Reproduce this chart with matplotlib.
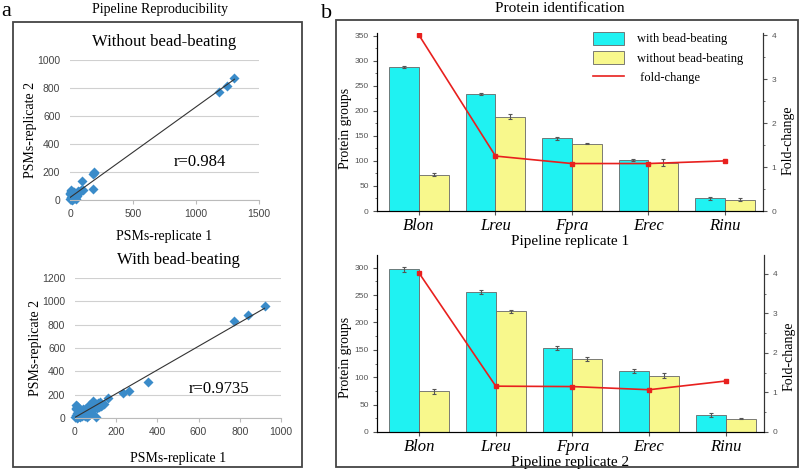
#!/usr/bin/env python3
"""Pipeline reproducibility scatter plots and protein identification bar charts."""

import numpy as np
import matplotlib
matplotlib.use("Agg")
import matplotlib.pyplot as plt
from matplotlib.patches import Rectangle, Patch
from matplotlib.lines import Line2D
from matplotlib.ticker import MultipleLocator

W, H = 800, 472

# --- panel a: PSMs replicate 1 vs replicate 2 ---
wo_rep1 = [1305, 1245, 1180, 190, 185, 192, 180, 95, 100, 85, 75, 70, 62, 58, 52, 48, 44,
           40, 36, 32, 28, 25, 22, 18, 15, 12, 10, 8, 6, 5, 4, 3, 2, 1, 14, 24, 34, 46,
           55, 66, 20, 30, 8, 12, 40]
wo_rep2 = [873, 812, 770, 200, 185, 190, 80, 135, 75, 70, 60, 55, 62, 48, 50, 40, 45,
           35, 38, 28, 30, 22, 25, 18, 20, 12, 15, 8, 10, 65, 70, 50, 40, 5, 2, 10, 20, 8,
           30, 45, 55, 60, 25, 35, 15]
wo_r = "r=0.984"

w_rep1 = [920, 840, 770, 355, 260, 235, 160, 100, 130, 120, 110, 100, 95, 90, 85, 80, 75,
          70, 65, 60, 55, 50, 45, 40, 35, 30, 25, 20, 15, 10, 8, 5, 3, 2, 12, 22, 32, 42,
          52, 62, 72, 82, 92, 105, 115, 125, 140, 18, 28, 38, 48, 58, 68, 78, 6, 4]
w_rep2 = [960, 880, 830, 308, 235, 215, 175, 5, 110, 140, 130, 120, 100, 90, 150, 80, 70,
          110, 60, 90, 50, 80, 40, 70, 30, 60, 20, 50, 10, 40, 100, 90, 30, 5, 2, 8, 15,
          25, 35, 45, 55, 65, 75, 85, 95, 105, 120, 60, 70, 80, 20, 10, 30, 40, 110, 80]
w_r = "r=0.9735"

# --- panel b: protein groups per species ---
species = ["Blon", "Lreu", "Fpra", "Erec", "Rinu"]

rep1_with = [287, 233, 145, 102, 25]
rep1_with_err = [2, 2, 3, 2, 3]
rep1_without = [72, 188, 134, 96, 22]
rep1_without_err = [3, 5, 1, 7, 3]
rep1_fold = [4.0, 1.25, 1.08, 1.08, 1.14]

rep2_with = [297, 256, 153, 111, 31]
rep2_with_err = [5, 4, 4, 4, 3]
rep2_without = [74, 220, 133, 103, 24]
rep2_without_err = [5, 2, 4, 4, 1]
rep2_fold = [4.02, 1.16, 1.15, 1.07, 1.29]

SERIF = "Liberation Serif"
SANS = "Liberation Sans"
BLUE = "#3a8bc9"
CYAN = "#1ff2f2"
YELLOW = "#f8f88c"
RED = "#e8201e"


def rect(left, top, right, bottom):
    """Pixel box -> figure fraction rect."""
    return [left / W, (H - bottom) / H, (right - left) / W, (bottom - top) / H]


def scatter_panel(fig, box, x, y, xmax, xstep, ymax, ystep, title, rtext, rpos, xpad):
    ax = fig.add_axes(rect(*box))
    ax.scatter(x, y, marker="D", s=26, color=BLUE, zorder=2, linewidths=0, clip_on=False)
    k, b = np.polyfit(x, y, 1)
    xs = np.array([min(x), max(x)])
    ax.plot(xs, k * xs + b, color="#333333", lw=0.8, zorder=3)
    ax.set_xlim(0, xmax)
    ax.set_ylim(0, ymax)
    ax.set_xticks(np.arange(0, xmax + 1, xstep))
    ax.set_yticks(np.arange(0, ymax + 1, ystep))
    ax.grid(axis="y", color="#d0d0d0", lw=0.8)
    ax.set_axisbelow(True)
    for s in ["top", "right", "left"]:
        ax.spines[s].set_visible(False)
    ax.spines["bottom"].set_color("#bbbbbb")
    ax.tick_params(axis="x", length=3, color="#bbbbbb", labelsize=7.5, labelcolor="#444444")
    ax.tick_params(axis="y", length=0, labelsize=7.5, labelcolor="#444444", pad=7)
    for lbl in ax.get_xticklabels() + ax.get_yticklabels():
        lbl.set_family(SANS)
    ax.set_title(title, family=SERIF, fontsize=12, pad=10)
    ax.set_xlabel("PSMs-replicate 1", family=SERIF, fontsize=10, labelpad=xpad)
    ax.set_ylabel("PSMs-replicate 2", family=SERIF, fontsize=10, labelpad=0)
    ax.text(rpos[0], rpos[1], rtext, transform=ax.transAxes, family=SERIF, fontsize=12)
    return ax


def bar_panel(fig, box, with_v, with_e, without_v, without_e, fold, ymax, yticks,
              fmax, xlabel, label_y, legend=False):
    ax = fig.add_axes(rect(*box))
    x = np.arange(len(species))
    w = 0.39
    ek = dict(ecolor="#555555", elinewidth=0.8, capsize=1.5, capthick=0.8)
    ax.bar(x - w / 2, with_v, w, yerr=with_e, color=CYAN, edgecolor="#666666",
           lw=0.6, error_kw=ek)
    ax.bar(x + w / 2, without_v, w, yerr=without_e, color=YELLOW, edgecolor="#666666",
           lw=0.6, error_kw=ek)
    ax.set_xlim(-0.55, 4.5)
    ax.set_ylim(0, ymax)
    ax.set_yticks(yticks)
    ax.yaxis.set_minor_locator(MultipleLocator(25))
    ax.set_xticks(x)
    ax.set_xticklabels(species, family=SERIF, style="italic", fontsize=12)
    ax.spines["top"].set_visible(False)
    for s in ["left", "bottom", "right"]:
        ax.spines[s].set_color("#333333")
    ax.tick_params(axis="y", labelsize=6, length=3, pad=3, labelcolor="#555555",
                   color="#555555")
    ax.tick_params(axis="y", which="minor", length=1.5, color="#555555")
    ax.tick_params(axis="x", length=3, pad=2, color="#555555")
    for lbl in ax.get_yticklabels():
        lbl.set_family(SANS)
    ax.set_ylabel("Protein groups", family=SERIF, fontsize=10)
    ax.yaxis.set_label_coords(-0.064, label_y[0])
    ax.set_xlabel(xlabel, family=SERIF, fontsize=11, labelpad=1)

    ax2 = ax.twinx()
    ax2.plot(x, fold, color=RED, lw=1.2, marker="s", ms=3)
    ax2.set_ylim(0, fmax)
    ax2.set_yticks([0, 1, 2, 3, 4])
    ax2.yaxis.set_minor_locator(MultipleLocator(0.5))
    ax2.spines["top"].set_visible(False)
    ax2.spines["right"].set_color("#333333")
    ax2.tick_params(axis="y", labelsize=6, length=3, pad=3, labelcolor="#555555",
                    color="#555555")
    ax2.tick_params(axis="y", which="minor", length=1.5, color="#555555")
    for lbl in ax2.get_yticklabels():
        lbl.set_family(SANS)
    ax2.set_ylabel("Fold-change", family=SERIF, fontsize=10)
    ax2.yaxis.set_label_coords(1.047, label_y[1])

    if legend:
        handles = [Patch(facecolor=CYAN, edgecolor="#666666", lw=0.6),
                   Patch(facecolor=YELLOW, edgecolor="#666666", lw=0.6),
                   Line2D([], [], color=RED, lw=1.2)]
        labels = ["with bead-beating", "without bead-beating", " fold-change"]
        ax.legend(handles, labels, loc="upper left", bbox_to_anchor=(0.53, 1.07),
                  frameon=False, prop={"family": SERIF, "size": 9},
                  handlelength=2.5, handleheight=1.2, labelspacing=0.45,
                  handletextpad=1.0)
    return ax


fig = plt.figure(figsize=(W / 100, H / 100), dpi=100)

# panel frames
for l, t, r, b in [(13, 22, 302, 467), (336, 20, 798, 467)]:
    fig.add_artist(Rectangle((l / W, (H - b) / H), (r - l) / W, (b - t) / H,
                             transform=fig.transFigure, fill=False,
                             edgecolor="#444444", lw=1.3))

fig.text(1 / W, 1 - 11 / H, "a", family=SERIF, fontsize=16, va="center")
fig.text(321 / W, 1 - 13 / H, "b", family=SERIF, fontsize=16, va="center")
fig.text(160 / W, 1 - 9 / H, "Pipeline Reproducibility", family=SERIF, fontsize=10,
         ha="center", va="center")
fig.text(560 / W, 1 - 8 / H, "Protein identification", family=SERIF, fontsize=11,
         ha="center", va="center")

scatter_panel(fig, (70, 60, 259, 200), wo_rep1, wo_rep2, 1500, 500, 1000, 200,
              "Without bead-beating", wo_r, (0.55, 0.24), 8)
scatter_panel(fig, (75, 278, 281, 418), w_rep1, w_rep2, 1000, 200, 1200, 200,
              "With bead-beating", w_r, (0.55, 0.18), 11)

bar_panel(fig, (377, 33, 763, 211), rep1_with, rep1_with_err, rep1_without,
          rep1_without_err, rep1_fold, 355, [0, 50, 100, 150, 200, 250, 300, 350],
          4.05, "Pipeline replicate 1", (0.466, 0.40), legend=True)
bar_panel(fig, (377, 255, 764, 432), rep2_with, rep2_with_err, rep2_without,
          rep2_without_err, rep2_fold, 323, [0, 50, 100, 150, 200, 250, 300],
          4.48, "Pipeline replicate 2", (0.42, 0.43))

fig.savefig("out.png", dpi=100)
